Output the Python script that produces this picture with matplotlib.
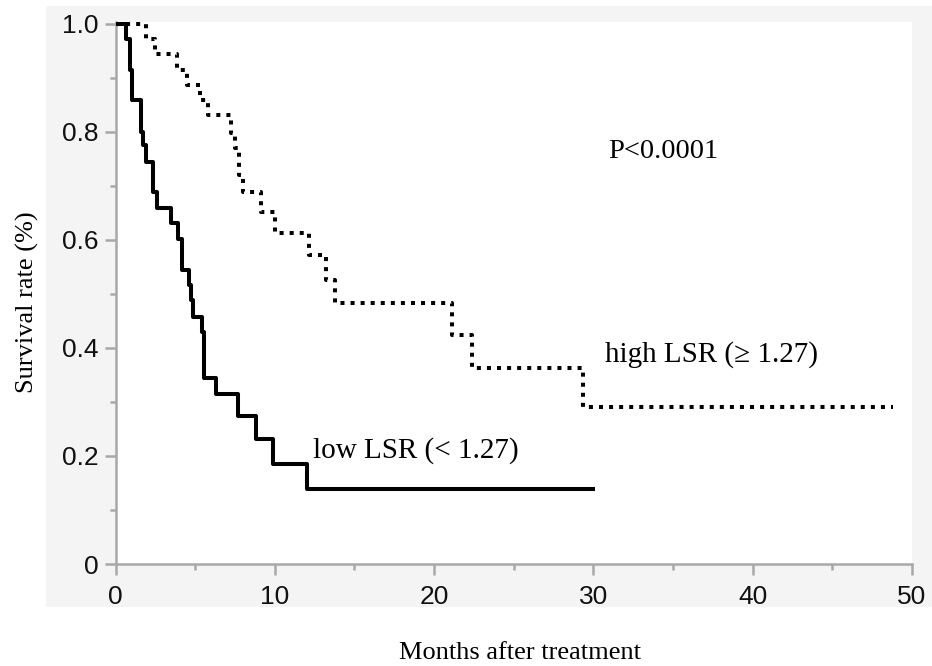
import matplotlib
matplotlib.use("Agg")
import matplotlib.pyplot as plt
from matplotlib.patches import Rectangle
from matplotlib.ticker import MultipleLocator

# Kaplan-Meier steps (month of event, survival after event)
low_months = [0, 0.66, 0.91, 1.02, 1.58, 1.75, 1.91, 2.37, 2.59, 3.47, 3.94, 4.16,
              4.63, 4.71, 4.85, 5.41, 5.57, 6.31, 7.67, 8.82, 9.87, 12.02, 30.0]
low_surv = [1.0, 0.972, 0.915, 0.859, 0.80, 0.776, 0.745, 0.689, 0.659, 0.631, 0.602, 0.544,
            0.517, 0.489, 0.458, 0.430, 0.344, 0.314, 0.274, 0.231, 0.185, 0.139, 0.139]

high_months = [0, 1.90, 2.48, 3.84, 4.51, 5.30, 5.83, 7.23, 7.50, 7.77, 8.02, 9.13,
               10.0, 12.17, 13.21, 13.78, 21.1, 22.36, 29.37, 48.83]
high_surv = [1.0, 0.972, 0.944, 0.915, 0.887, 0.859, 0.831, 0.798, 0.770, 0.720, 0.689, 0.652,
             0.612, 0.572, 0.526, 0.483, 0.424, 0.362, 0.291, 0.291]

xticks = [0, 10, 20, 30, 40, 50]
yticks = [0, 0.2, 0.4, 0.6, 0.8, 1.0]
ytick_labels = ["0", "0.2", "0.4", "0.6", "0.8", "1.0"]

serif = "Liberation Serif"
sans = "Liberation Sans"
axis_gray = "#a8a8a8"

fig = plt.figure(figsize=(9.32, 6.66), dpi=100)

# light gray panel behind the plot area
fig.patches.append(Rectangle((46 / 932, 59 / 666), 1 - 46 / 932, 601 / 666,
                             transform=fig.transFigure, facecolor="#f4f4f4",
                             edgecolor="none", zorder=-5))

ax = fig.add_axes([115.5 / 932, 102 / 666, 796.5 / 932, 542.3 / 666])
ax.set_zorder(2)
ax.set_facecolor("white")

ax.step(high_months, high_surv, where="post", color="black", lw=2.9,
        linestyle=(0, (1, 1.5)), zorder=3)
ax.step(low_months, low_surv, where="post", color="black", lw=2.9, zorder=4)

ax.set_xlim(0, 50)
ax.set_ylim(0, 1.004)

for side in ["top", "right"]:
    ax.spines[side].set_visible(False)
for side in ["left", "bottom"]:
    ax.spines[side].set_color(axis_gray)
    ax.spines[side].set_linewidth(1.8)

ax.set_xticks(xticks)
ax.set_yticks(yticks)
ax.set_yticklabels(ytick_labels)
ax.xaxis.set_minor_locator(MultipleLocator(5))
ax.yaxis.set_minor_locator(MultipleLocator(0.1))
ax.tick_params(which="major", length=8, width=1.8, color=axis_gray,
               labelsize=19, labelcolor="#111111")
ax.tick_params(which="minor", length=4.3, width=1.8, color=axis_gray)
ax.tick_params(axis="x", which="major", pad=7)
ax.tick_params(axis="y", which="major", pad=4)
for lab in ax.get_xticklabels() + ax.get_yticklabels():
    lab.set_fontfamily(sans)

ax.set_ylabel("Survival rate (%)", fontsize=19, family=serif, va="center")
ax.yaxis.set_label_coords(-0.111, 0.483)
ax.set_xlabel("Months after treatment", fontsize=19, family=serif, va="baseline")
ax.xaxis.set_label_coords(0.508, -0.175)

ax.text(30.9, 0.751, "P<0.0001", fontsize=20.5, family=serif, va="baseline")
ax.text(30.7, 0.375, "high LSR (\u2265 1.27)", fontsize=21, family=serif, va="baseline")
ax.text(12.4, 0.196, "low LSR (< 1.27)", fontsize=21, family=serif, va="baseline")

fig.savefig("out.png", dpi=100)
